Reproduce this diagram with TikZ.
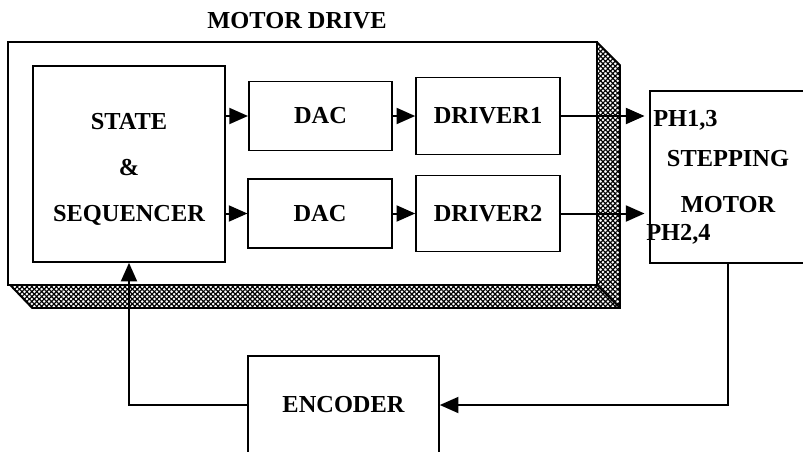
\documentclass[tikz,border=0pt]{standalone}
\usepackage{fontspec}
\setmainfont{Liberation Serif}
\usetikzlibrary{arrows.meta,patterns.meta}
\newcommand{\lbl}{\fontsize{18.3}{34.5}\selectfont\bfseries}
\tikzset{
  blk/.style={draw,line width=1.2pt,fill=white,inner sep=0pt,align=center,font=\lbl},
  txt/.style={inner sep=0pt,font=\lbl,align=center},
  arr/.style={line width=1.5pt,-{Triangle[length=14pt,width=12pt]}},
  hatchA/.style={pattern={Lines[angle=45,distance=2.6pt,line width=0.9pt]}},
  hatchB/.style={pattern={Lines[angle=-45,distance=2.6pt,line width=0.9pt]}}
}

\begin{document}
\begin{tikzpicture}[x=0.75pt,y=-0.75pt]
\useasboundingbox (0,0) rectangle (803,451);
% shadow of the drive box
\path[hatchA] (597,42) -- (620,65) -- (620,308) -- (32,308) -- (10,285) -- cycle;
\path[hatchB] (597,42) -- (620,65) -- (620,308) -- (32,308) -- (10,285) -- cycle;
\draw[line width=1.2pt] (597,42) -- (620,65) -- (620,308) -- (32,308) -- (10,285);
\draw[line width=1.2pt] (597,285) -- (620,308);
\node[blk,minimum width=441.75pt,minimum height=182.25pt] (drive) at (302.5,163.5) {};
\node[txt] (title) at (297,21) {MOTOR DRIVE};

\node[blk,minimum width=144pt,minimum height=147pt,
  label={[txt,yshift=-4pt]center:STATE\\\&\\SEQUENCER}] (sq) at (129,164) {};
\node[blk,minimum width=107.6pt,minimum height=52pt] (dac1) at (320.5,116) {DAC};
\node[blk,minimum width=107.6pt,minimum height=52pt] (dac2) at (320,213.5) {DAC};
\node[blk,minimum width=108pt,minimum height=58pt] (drv1) at (488,116) {DRIVER1};
\node[blk,minimum width=108pt,minimum height=57pt] (drv2) at (488,213.5) {DRIVER2};
\node[blk,minimum width=117pt,minimum height=129pt,
  label={[txt,yshift=-3.5pt]center:STEPPING\\MOTOR}] (mot) at (728,177) {};
\node[txt,anchor=west] (ph13) at (653,120) {PH1,3};
\node[txt,anchor=west] (ph24) at (646,234) {PH2,4};
\node[blk,minimum width=143.25pt,minimum height=73.5pt] (enc) at (343.5,405) {ENCODER};

\draw[arr] (sq.east |- dac1) -- (dac1);
\draw[arr] (sq.east |- dac2) -- (dac2);
\draw[arr] (dac1) -- (drv1);
\draw[arr] (dac2) -- (drv2);
\draw[arr,shorten >=3.5pt] (drv1) -- (drv1 -| mot.west);
\draw[arr,shorten >=3.5pt] (drv2) -- (drv2 -| mot.west);
\draw[arr] (mot.south) |- (enc.east);
\draw[arr] (enc.west) -| (sq.south);
\end{tikzpicture}
\end{document}
